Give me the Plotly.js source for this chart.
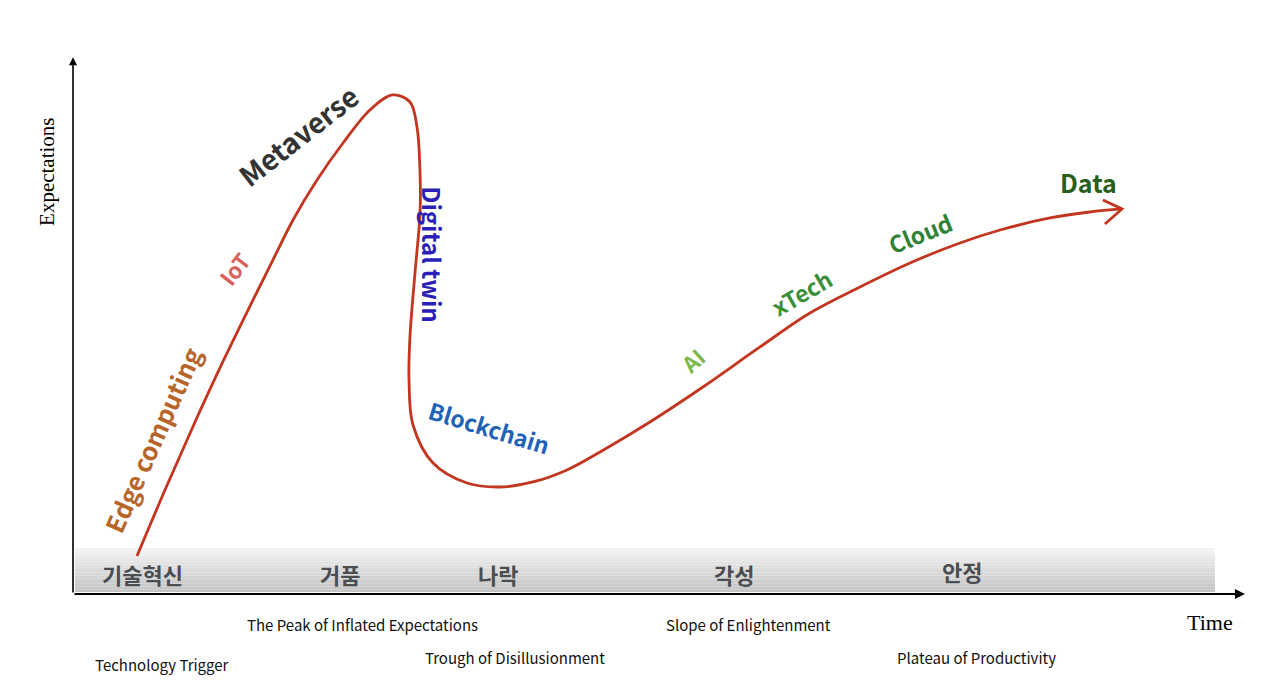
<!DOCTYPE html>
<html>
<head>
<meta charset="utf-8">
<script src="https://cdn.plot.ly/plotly-3.0.1.min.js"></script>
<style>html,body{margin:0;padding:0;background:#fff;}#chart{width:1280px;height:695px;}</style>
</head>
<body>
<div id="chart"></div>
<script>
// Hype-cycle curve (time, expectations)
const curveTime = [5.46, 7.94, 10.41, 12.88, 15.36, 17.06, 18.77, 20.82, 23.04, 25.34, 27.30, 28.75, 29.35, 29.61, 29.61, 29.18, 28.75, 28.67, 29.01, 30.72, 33.62, 36.43, 39.25, 42.15, 44.97, 49.23, 53.75, 58.62, 62.88, 67.15, 71.42, 75.68, 79.10, 83.36, 86.77, 89.51];
const curveExpect = [7.05, 19.76, 31.91, 43.51, 54.55, 61.97, 69.39, 76.81, 83.67, 89.80, 92.58, 91.28, 86.64, 78.11, 70.69, 59.55, 47.68, 39.70, 31.35, 24.30, 20.59, 19.85, 20.78, 23.01, 26.35, 31.91, 38.40, 45.83, 52.13, 56.96, 61.41, 65.12, 67.53, 69.76, 70.87, 71.43];
const arrowTime = [87.88, 89.51, 88.05];
const arrowExpect = [73.10, 71.43, 68.65];

// Technologies placed along the curve
const techNames = ["Edge computing", "IoT", "Metaverse", "Digital twin", "Blockchain", "AI", "xTech", "Cloud", "Data"];
const techTime = [6.74, 13.74, 19.2, 30.6, 35.5, 52.82, 62.2, 72.27, 86.69];
const techExpect = [28.57, 60.48, 85.16, 63.08, 31.0, 43.41, 56.0, 66.98, 76.44];
const techAngle = [-66, -52, -38, 90, 17, -42, -30, -22, 0];
const techColor = ["#b8652a", "#d9625a", "#333333", "#2b1fb8", "#1f63b8", "#7cb84a", "#3a8f3a", "#2f8236", "#2a5e1c"];
const techSize = [25, 22, 28, 24, 23, 22, 23, 23, 25];

// Phase labels (Korean, in band) and English names below the axis
const phaseKo = ["기술혁신", "거품", "나락", "각성", "안정"];
const phaseKoTime = [5.97, 22.78, 36.26, 56.4, 75.85];
const phaseKoExpect = [3.71, 3.71, 3.71, 3.71, 4.27];
const phaseEn = ["Technology Trigger", "The Peak of Inflated Expectations", "Trough of Disillusionment", "Slope of Enlightenment", "Plateau of Productivity"];
const phaseEnTime = [7.59, 24.66, 37.71, 57.68, 77.05];
const phaseEnExpect = [-12.99, -5.75, -11.87, -5.75, -11.87];

const curveColor = "#c2361f";

const traces = [
  {x: curveTime, y: curveExpect, mode: "lines", line: {color: curveColor, width: 2.8, shape: "spline", smoothing: 1}, hoverinfo: "skip", cliponaxis: false},
  {x: arrowTime, y: arrowExpect, mode: "lines", line: {color: curveColor, width: 2.8}, hoverinfo: "skip", cliponaxis: false}
];

// gradient band as stacked strips
const shapes = [];
const bandTop = 8.53, bandBot = 0.37, nStrips = 16;
for (let i = 0; i < nStrips; i++) {
  const t = i / (nStrips - 1);
  const c = Math.round(243 - t * (243 - 196));
  const y1 = bandTop - (bandTop - bandBot) * i / nStrips;
  const y0 = bandTop - (bandTop - bandBot) * (i + 1) / nStrips;
  shapes.push({type: "rect", xref: "x", yref: "y", x0: 0.17, x1: 97.44, y0: y0, y1: y1 + 0.02, fillcolor: `rgb(${c},${c},${c})`, line: {width: 0}, layer: "below"});
}

const annotations = [];
// axes with arrows
annotations.push({x: 0, y: 99.6, ax: 0, ay: 0, xref: "x", yref: "y", axref: "x", ayref: "y", text: "", showarrow: true, arrowhead: 2, arrowsize: 1, arrowwidth: 1.6, arrowcolor: "#000"});
annotations.push({x: 100, y: 0, ax: 0, ay: 0, xref: "x", yref: "y", axref: "x", ayref: "y", text: "", showarrow: true, arrowhead: 2, arrowsize: 1, arrowwidth: 2, arrowcolor: "#000"});
annotations.push({x: 97.01, y: -5.38, xref: "x", yref: "y", text: "Time", showarrow: false, font: {family: "Liberation Serif, DejaVu Serif, serif", size: 22, color: "#000"}});
annotations.push({x: -2.22, y: 78.3, xref: "x", yref: "y", text: "Expectations", showarrow: false, textangle: -90, font: {family: "Liberation Serif, DejaVu Serif, serif", size: 21, color: "#000"}});

for (let i = 0; i < techNames.length; i++) {
  annotations.push({x: techTime[i], y: techExpect[i], xref: "x", yref: "y", text: "<b>" + techNames[i] + "</b>", showarrow: false, textangle: techAngle[i], font: {family: "Noto Sans CJK KR, Noto Sans, sans-serif", size: techSize[i], color: techColor[i]}});
}
for (let i = 0; i < phaseKo.length; i++) {
  annotations.push({x: phaseKoTime[i], y: phaseKoExpect[i], xref: "x", yref: "y", text: "<b>" + phaseKo[i] + "</b>", showarrow: false, font: {family: "Noto Sans CJK KR, sans-serif", size: 22, color: "#4a4d52"}});
}
for (let i = 0; i < phaseEn.length; i++) {
  annotations.push({x: phaseEnTime[i], y: phaseEnExpect[i], xref: "x", yref: "y", text: phaseEn[i], showarrow: false, font: {family: "Noto Sans CJK KR, sans-serif", size: 15, color: "#111"}});
}

const layout = {
  width: 1280, height: 695,
  margin: {l: 0, r: 0, t: 0, b: 0},
  paper_bgcolor: "#fff", plot_bgcolor: "#fff",
  showlegend: false,
  xaxis: {range: [-6.23, 102.99], visible: false, fixedrange: true},
  yaxis: {range: [-18.74, 110.2], visible: false, fixedrange: true},
  shapes: shapes,
  annotations: annotations
};

Plotly.newPlot("chart", traces, layout, {displayModeBar: false, staticPlot: true});
</script>
</body>
</html>
